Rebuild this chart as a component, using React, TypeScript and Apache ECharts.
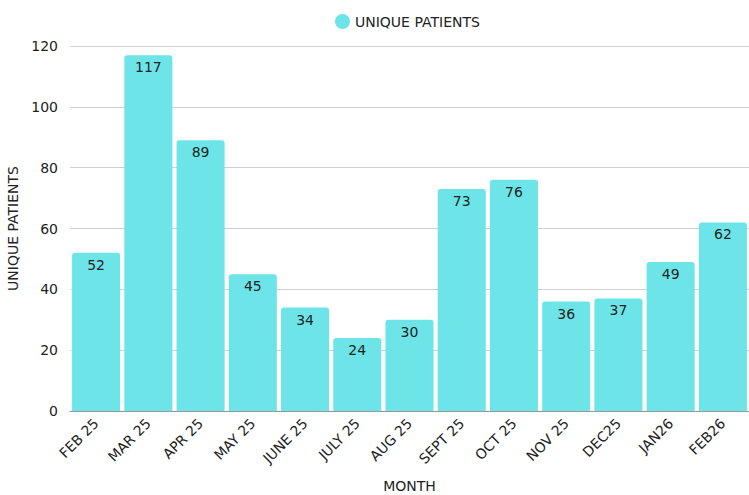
import React, { useEffect, useRef } from "react";
import * as echarts from "echarts";

const months = ["FEB 25", "MAR 25", "APR 25", "MAY 25", "JUNE 25", "JULY 25", "AUG 25", "SEPT 25", "OCT 25", "NOV 25", "DEC25", "JAN26", "FEB26"];
const uniquePatients = [52, 117, 89, 45, 34, 24, 30, 73, 76, 36, 37, 49, 62];
const seriesName = "UNIQUE PATIENTS";

const FONT = "'DejaVu Sans', sans-serif";

export default function App() {
  const ref = useRef<HTMLDivElement>(null);
  useEffect(() => {
    if (!ref.current) return;
    const chart = echarts.init(ref.current, undefined, { renderer: "svg" });
    chart.setOption({
      animation: false,
      textStyle: { fontFamily: FONT },
      legend: {
        top: 9,
        left: 330,
        icon: "circle",
        itemWidth: 15,
        itemHeight: 15,
        itemGap: 6,
        textStyle: { fontSize: 14, color: "#222", fontFamily: FONT },
        data: [seriesName],
      },
      grid: { left: 70, right: 0, top: 46, bottom: 84, containLabel: false, outerBoundsMode: "none" },
      xAxis: {
        type: "category",
        data: months,
        name: "MONTH",
        nameLocation: "middle",
        nameGap: 68,
        nameTextStyle: { fontSize: 14, color: "#222", fontFamily: FONT },
        axisLine: { lineStyle: { color: "#999" } },
        axisTick: { show: false },
        axisLabel: { rotate: 45, fontSize: 14, color: "#222", margin: 10, interval: 0, fontFamily: FONT },
      },
      yAxis: {
        type: "value",
        min: 0,
        max: 120,
        interval: 20,
        name: "UNIQUE PATIENTS",
        nameLocation: "middle",
        nameGap: 46,
        nameTextStyle: { fontSize: 14, color: "#222", fontFamily: FONT },
        axisLabel: { fontSize: 14, color: "#222", margin: 12, fontFamily: FONT },
        splitLine: { lineStyle: { color: "#d0d0d0" } },
        axisLine: { show: false },
        axisTick: { show: false },
      },
      series: [
        {
          name: seriesName,
          type: "bar",
          data: uniquePatients,
          barCategoryGap: "8%",
          itemStyle: { color: "#6de5e8", borderRadius: [3, 3, 0, 0] },
          label: {
            show: true,
            position: "insideTop",
            distance: 5,
            fontSize: 14,
            color: "#222",
            fontFamily: FONT,
          },
        },
      ],
    });
    return () => chart.dispose();
  }, []);
  return <div ref={ref} style={{ width: 749, height: 495, position: "absolute", left: 0, top: 0 }} />;
}
